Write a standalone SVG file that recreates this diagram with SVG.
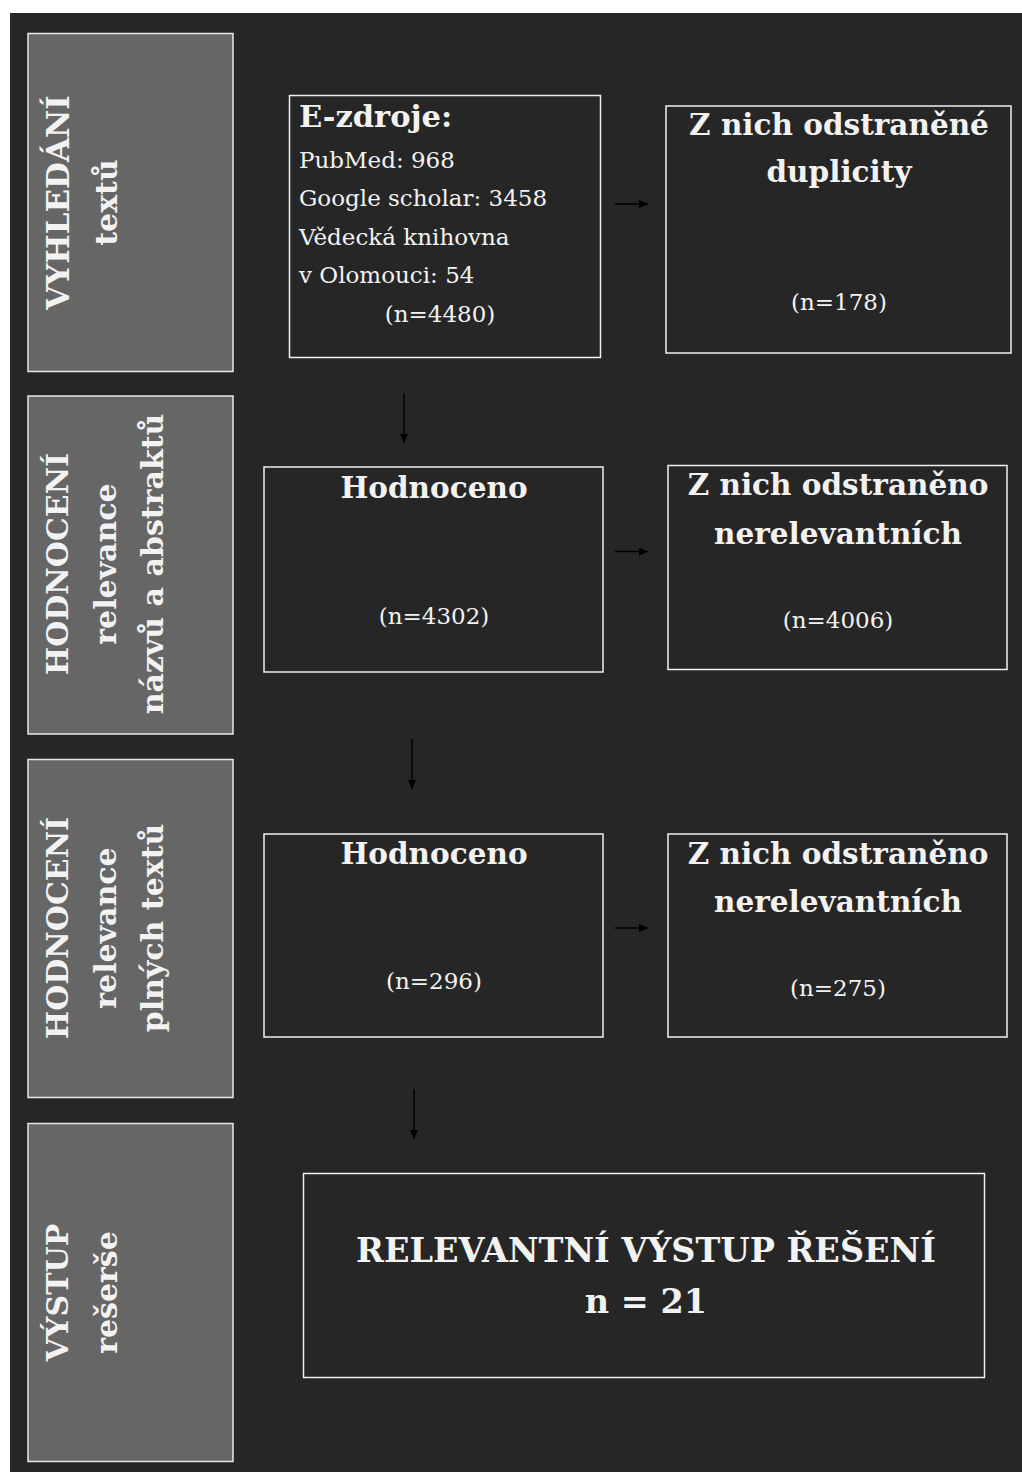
<svg xmlns="http://www.w3.org/2000/svg" width="1022" height="1472" viewBox="0 0 1022 1472">
<style>
  .phase { fill: #666666; stroke: #e8e8e8; stroke-width: 1.5; }
  .box { fill: #262626; stroke: #f0f0f0; stroke-width: 1.5; }
  .t { font-family: "DejaVu Serif", "Liberation Serif", serif; fill: #f2f2f2; }
  .b { font-weight: bold; font-size: 29.5px; }
  .r { font-size: 23px; }
  .pl { font-weight: bold; font-size: 30px; }
  .big { font-weight: bold; font-size: 33.5px; }
  .c { text-anchor: middle; }
  .conn { stroke: #000000; stroke-width: 1.4; fill: none; marker-end: url(#ah); }
</style>
<defs>
  <marker id="ah" markerWidth="9" markerHeight="8" refX="9" refY="4" orient="auto" markerUnits="userSpaceOnUse">
    <path d="M0,0 L9,4 L0,8 Z" fill="#000000"/>
  </marker>
</defs>
<rect x="0" y="0" width="1022" height="1472" fill="#ffffff"/>
<rect x="10" y="13" width="1012" height="1459" fill="#262626"/>

<g id="phase1">
  <rect class="phase" x="28" y="33.5" width="205" height="338"/>
  <text class="t pl c" transform="translate(69,202.5) rotate(-90)" style="font-size:31px">VYHLEDÁNÍ</text>
  <text class="t pl c" transform="translate(117,202.5) rotate(-90)">textů</text>
</g>
<g id="phase2">
  <rect class="phase" x="28" y="396" width="205" height="338"/>
  <text class="t pl c" transform="translate(68,564) rotate(-90)">HODNOCENÍ</text>
  <text class="t pl c" transform="translate(116,564) rotate(-90)">relevance</text>
  <text class="t pl c" transform="translate(163,564) rotate(-90)">názvů a abstraktů</text>
</g>
<g id="phase3">
  <rect class="phase" x="28" y="759.5" width="205" height="338"/>
  <text class="t pl c" transform="translate(68,928) rotate(-90)">HODNOCENÍ</text>
  <text class="t pl c" transform="translate(116,928) rotate(-90)">relevance</text>
  <text class="t pl c" transform="translate(163,928) rotate(-90)">plných textů</text>
</g>
<g id="phase4">
  <rect class="phase" x="28" y="1123.5" width="205" height="338"/>
  <text class="t pl c" transform="translate(68,1292.5) rotate(-90)">VÝSTUP</text>
  <text class="t pl c" transform="translate(117,1292.5) rotate(-90)">rešerše</text>
</g>

<g id="ezdroje">
  <rect class="box" x="289.5" y="95.5" width="311" height="262"/>
  <text class="t b" x="299" y="127" style="font-size:30.5px">E-zdroje:</text>
  <text class="t r" x="299" y="168">PubMed: 968</text>
  <text class="t r" x="299" y="206">Google scholar: 3458</text>
  <text class="t r" x="299" y="245">Vědecká knihovna</text>
  <text class="t r" x="299" y="283">v Olomouci: 54</text>
  <text class="t r c" x="440" y="322">(n=4480)</text>
</g>
<g id="duplicity">
  <rect class="box" x="666" y="106" width="345" height="247"/>
  <text class="t b c" x="839" y="135">Z nich odstraněné</text>
  <text class="t b c" x="839" y="182">duplicity</text>
  <text class="t r c" x="839" y="310">(n=178)</text>
</g>
<g id="hodnoceno1">
  <rect class="box" x="264" y="467" width="339" height="205"/>
  <text class="t b c" x="434" y="498">Hodnoceno</text>
  <text class="t r c" x="434" y="624">(n=4302)</text>
</g>
<g id="nerelevantni1">
  <rect class="box" x="668" y="465.5" width="339" height="204"/>
  <text class="t b c" x="838" y="495">Z nich odstraněno</text>
  <text class="t b c" x="838" y="544">nerelevantních</text>
  <text class="t r c" x="838" y="628">(n=4006)</text>
</g>
<g id="hodnoceno2">
  <rect class="box" x="264" y="834" width="339" height="203"/>
  <text class="t b c" x="434" y="864">Hodnoceno</text>
  <text class="t r c" x="434" y="989">(n=296)</text>
</g>
<g id="nerelevantni2">
  <rect class="box" x="668" y="834" width="339" height="203"/>
  <text class="t b c" x="838" y="864">Z nich odstraněno</text>
  <text class="t b c" x="838" y="912">nerelevantních</text>
  <text class="t r c" x="838" y="996">(n=275)</text>
</g>
<g id="vystup">
  <rect class="box" x="303.5" y="1173.5" width="681" height="204"/>
  <text class="t big c" x="646" y="1262">RELEVANTNÍ VÝSTUP ŘEŠENÍ</text>
  <text class="t big c" x="646" y="1313">n = 21</text>
</g>

<g id="connectors">
  <line class="conn" x1="615" y1="204" x2="648" y2="204"/>
  <line class="conn" x1="615" y1="551.5" x2="648" y2="551.5"/>
  <line class="conn" x1="615" y1="928" x2="648" y2="928"/>
  <line class="conn" x1="404" y1="393" x2="404" y2="443"/>
  <line class="conn" x1="412" y1="739" x2="412" y2="789"/>
  <line class="conn" x1="414" y1="1089" x2="414" y2="1139"/>
</g>
</svg>
